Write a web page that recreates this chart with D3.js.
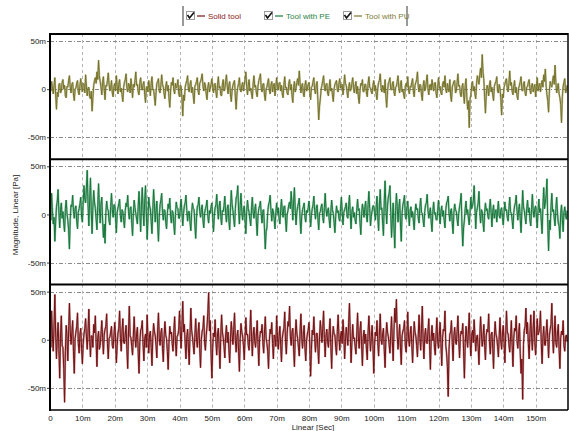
<!DOCTYPE html>
<html>
<head>
<meta charset="utf-8">
<script src="https://cdn.jsdelivr.net/npm/d3@7"></script>
<style>
  body { margin: 0; background: #fff; }
  svg { display: block; }
  text { font-family: "Liberation Sans", Arial, sans-serif; }
</style>
</head>
<body>
<svg id="chart" width="569" height="431"></svg>
<script>
// Sample spacing in milliseconds; magnitudes are in milli-pascal.
const sampleStepMs = 0.25;

const toolWithPU = [
  3, -2, 8, 1, -5, 4, 12, -6, -21, -3, -8, 5, 6, -4, -2, 7, 10, 0, 4, -7, -9, 3, 2, 9, 14, 2, -4, 5, 7, -5, -12, 0, 1, 6, 9, -3, -6, 4, 11, 2,
  -3, 6, 5, -4, 15, 3, -7, 1, 2, -8, -10, -2, -23, -9, 4, 9, 12, 6, 18, 10, 30, 14, 8, 2, -6, 7, 13, -1, -11, 4, 3, 9, 17, 5, -2, 1, 9, -4, -8, 3,
  6, -2, 14, 3, -5, 5, 10, -3, 1, -6, -13, 2, 7, 10, 16, 1, -3, 6, 4, -4, 11, 3, -9, 5, 2, 9, 18, 4, 5, -3, -6, 7, 12, 2, -1, 5, 8, -5, -14, 1,
  3, -3, 9, 2, -7, 6, 13, -1, 0, -8, -17, -4, 6, 8, 11, -2, -4, 4, 15, 5, 2, -5, -10, 3, 8, -2, 4, -9, -19, -2, 7, 4, 12, -1, -5, 6, 1, 3, 10, -4,
  -8, 4, 3, -9, -28, -6, -12, 2, 6, 9, 14, 0, -3, 5, 9, -4, 2, -7, -15, 3, 5, 8, 12, -2, -6, 6, 8, 11, 16, 3, -2, 7, 4, -5, -11, 2, 7, -3, 1, 5,
  11, 2, -4, 5, 6, -3, -9, 4, 13, 1, 3, -6, -7, 5, 10, -2, 0, 8, 15, 3, -5, 4, 8, -6, -13, -1, 4, 7, 9, -8, -21, -5, 2, 6, 12, 0, -3, 4, 7, -2,
  5, 10, 18, 3, -6, 4, 10, -2, 1, -5, -10, 6, 14, 2, 4, -4, -8, 3, 9, 12, 16, 1, -3, 5, 6, -6, -12, 0, 2, 7, 11, -1, -5, 4, 8, -3, 3, 6, -7, 2,
  12, 3, -1, 6, 7, -2, 4, -5, -9, 5, 13, 1, 2, -4, -6, 6, 10, -1, 5, -7, -14, 2, 8, -3, 1, 7, 11, 4, 19, 6, -4, 3, 6, -5, -8, 4, 9, -2, 0, 5,
  7, -3, -11, 2, 3, 8, 12, -1, -5, 4, 8, -12, -32, -18, -10, 0, 4, 9, 14, 2, -2, 5, 6, -4, -7, 3, 10, -2, 1, -6, -13, 0, 5, 7, 9, -1, -3, 6, 11, 1,
  2, 5, -6, 3, 15, 6, 4, -3, -9, 1, 7, -2, 0, 6, 12, 2, -4, 3, 8, -5, 3, -8, -15, -2, 6, 4, 10, -3, -2, 5, 5, -4, -8, 6, 13, 2, 1, -3, -5, 4,
  9, -2, 4, -5, -11, 1, 7, 9, 16, 2, -3, 4, 2, -4, 10, -8, -19, -3, 6, 8, 12, 0, -1, 5, 8, -3, -7, 2, 3, 8, 14, 1, -4, 5, 9, -3, 0, -6, -10, 3,
  6, 2, 13, -1, -5, 3, 2, 7, 11, -3, -8, 4, 7, 10, 18, 2, -3, 5, 4, -6, -12, 3, 9, -2, 1, 8, 15, 0, -6, 4, 5, -1, 10, 3, -2, 6, 7, -4, -9, 2,
  12, 1, 3, -4, -6, 5, 8, 2, 14, -1, -4, 6, 1, -3, 10, -7, -13, 2, 5, 8, 9, -4, -2, 7, 16, 3, 4, -5, -8, 2, 6, -6, -15, 4, 11, -8, -21, -12, -40, -10,
  -6, 4, 8, -2, 3, -5, -10, 6, 14, 9, 5, 15, 22, 12, 36, 18, 10, -8, -25, -6, 4, 1, -7, 5, 9, -3, 2, -6, -12, 3, 6, 8, 13, -2, -4, 5, 1, -10, -27, -5,
  -9, 2, 5, 9, 11, 0, -3, 6, 19, 4, 7, -2, -6, 3, 9, -4, 2, -7, -11, 1, 4, 8, 13, -1, -2, 5, 8, -4, -7, 2, 3, 7, 10, -1, -5, 4, 6, -3, 1, 5,
  -8, 3, 12, -2, 4, 6, -3, 5, 9, 2, 15, 8, 21, 3, -6, -12, -24, -2, 8, 4, 2, 9, 14, 5, 25, 7, -4, 2, 6, -5, -9, -16, -35, -8, 3, 7, 11, -4, -2, 4
];

const toolWithPE = [
  5, -6, 22, 4, -10, -3, -28, -8, 8, 14, 26, 2, -14, 5, 12, -4, 3, -9, -18, 6, 15, 1, -6, -16, -36, -5, 10, 8, 20, 3, -4, 6, 9, -7, -15, 2, 6, 11, 18, -3,
  -8, 12, 30, 16, 12, 28, 46, 10, -12, 15, 38, 4, -20, 8, 25, 13, 6, -5, -16, 9, 32, 7, -9, 11, 18, -6, -24, -10, -30, 2, 14, 6, 4, -7, -11, 8, 22, 5, -3, 10,
  10, -4, -19, 2, 7, 11, 16, -1, -8, 5, 3, -6, -14, 4, 12, 8, 20, 3, -5, 6, 8, -9, -22, 1, 15, 7, 1, -5, -10, 9, 24, 2, -18, 10, 28, 5, -12, 14, 30, 3,
  -26, -6, 18, 9, 6, -7, -20, 4, 26, 11, -8, 3, 14, -10, -28, -3, 10, 15, 22, 2, -6, 5, 4, -8, -15, 1, 11, 6, 17, -2, -9, 4, 2, -11, -21, 0, 13, 7, 6, -4,
  -4, 7, 16, 2, -12, 1, 9, 12, 20, 4, -7, 3, 3, -8, -17, 2, 12, 6, 5, -11, -25, -4, 8, 10, 18, 3, -3, 5, 10, -6, -14, 1, 6, 9, 15, -2, -9, 4, 1, 8,
  12, -3, -18, -2, 7, 10, 21, 5, -5, 8, 14, -2, -11, 4, 3, 9, 19, 1, -8, 6, 10, -6, -16, 7, 25, 11, 4, -5, -13, 6, 17, 20, 30, 4, -10, 9, 22, 3, -6, 5,
  9, -6, -20, 3, 15, 6, 2, -5, -12, 7, 18, 2, -4, 5, 11, -8, -22, -1, 6, 9, 14, 0, -9, 4, 5, -15, -36, -18, -14, 2, 10, 13, 20, 4, -7, 6, 3, -5, -15, 2,
  12, 1, 7, -4, -10, 5, 16, 3, -3, 8, 9, -6, -18, 0, 4, 10, 13, 6, 24, 9, -6, 14, 28, 4, -11, 2, 8, 12, 17, -5, -20, -2, 5, 8, 12, -3, -8, 4, 2, 7,
  14, 2, -13, -1, 6, 10, 19, 4, -5, 6, 10, -4, -16, 1, 3, 8, 11, -3, -9, 7, 22, 6, -2, 4, 7, -6, -14, 3, 15, 5, 1, -8, -19, -2, 9, 2, 4, -4, -7, 6,
  18, 3, -11, 2, 5, 8, 12, -2, -4, 9, 20, 1, -15, 3, 8, -3, 2, -6, -10, 5, 16, 4, 6, -8, -21, 0, 11, 5, -3, 7, 14, -2, -8, 10, 24, 6, -12, -2, 4, 9,
  9, 2, -6, 8, 19, -3, -17, 10, 26, 5, 7, -9, -22, 14, 35, 6, -10, 9, 18, 22, 30, 2, -24, -5, 12, -14, -35, 4, 22, 8, -8, 6, 16, -10, -28, 1, 10, 14, 20, -2,
  -5, 6, 14, 0, -12, 4, 8, -3, 3, -7, -16, 2, 11, 5, 6, -4, -9, 8, 17, 2, 1, -6, -13, 3, 10, 12, 21, 4, -4, 2, 7, -8, -18, 3, 13, 1, 2, -5, -6, 4,
  15, 2, -10, 3, 9, -2, 4, -6, -14, 5, 12, 14, 19, 1, -7, 4, 6, -9, -20, 2, 11, 5, 3, -5, -12, 1, 8, 13, 22, -12, -33, -14, -6, 6, 14, 1, 5, -4, -11, 3,
  18, 6, 9, 14, 30, 8, -15, 2, 7, 12, 24, 3, -9, 5, 3, -8, -18, 1, 12, 4, 6, -2, -5, 7, 16, 2, -13, 3, 10, -4, 2, 5, -8, 4, 14, -1, -4, 5, 7, -3,
  -11, 2, 13, 4, 5, -3, -7, 6, 18, 3, 1, -6, -15, 2, 9, 12, 20, 4, -6, 5, 11, -5, -19, 3, 25, 8, 4, -3, -10, 6, 15, 2, 7, -6, -12, 5, 21, 4, -3, 6,
  9, -3, -14, 4, 16, 2, 6, -7, -20, 8, 28, 6, 12, 20, 37, -10, -38, -6, -16, 8, 22, 3, 5, -4, -12, 6, 18, 2, -9, -12, -25, 1, 10, -5, -18, 2, 8, -1, -5, 4
];

const solidTool = [
  10, -8, 30, 4, -12, 15, 47, 6, -20, 2, 18, -10, -40, 5, 25, -6, -8, -30, -65, -12, 15, 3, -22, 8, 38, 10, -5, 7, 20, -12, -35, 1, 8, 14, 28, -4, -14, 6, 12, -9,
  -25, -5, 6, 12, 22, 3, -10, 9, 32, 1, -18, 4, 4, -8, 16, 7, 25, -3, -28, 2, 9, -10, -6, 6, 20, 2, -15, 5, 11, 14, 27, -4, -20, 1, 3, 8, 14, -6, -9, 4,
  18, 2, -24, -6, 7, 12, 30, 1, -12, 9, 22, -3, -4, 6, 15, -10, -30, 8, 35, 4, 2, -7, -16, 5, 24, 3, -8, 6, 13, -14, -35, -2, 10, 12, 20, -5, -22, 1, 6, -8,
  26, 3, -14, 5, 9, -8, -27, 2, 17, 9, 4, -6, -19, 10, 28, 2, -6, 7, 12, -9, -23, 4, 19, 5, 1, -12, -31, -3, 14, 6, 8, -4, -12, 9, 24, -2, -17, 3, 5, 10,
  30, 6, -9, 14, 40, 8, 16, -4, -20, 3, 11, -8, -26, 6, 33, 10, 3, -6, -15, 5, 22, 2, -8, 7, 18, -10, -29, 0, 9, 12, 25, -3, -11, 4, 14, 28, 49, 9, 20, -14,
  -40, -8, 7, 3, 21, -2, -16, 6, 12, -9, -30, 4, 26, 8, 2, -7, -19, 5, 15, -3, 8, -10, -24, 2, 19, 6, -5, 11, 28, -1, -13, 3, 10, -12, -33, 1, 17, 8, 4, -6,
  -21, 2, 23, 5, 6, -6, -11, 9, 31, 3, -17, 4, 13, -2, -8, 6, 20, -5, -27, 1, 9, 7, 16, -3, -14, 8, 24, 2, -4, -12, -30, -1, 11, 6, 18, -4, -20, 5, 3, -7,
  25, 4, -10, 3, 14, -6, -23, 1, 8, 12, 29, -2, -15, 6, 19, 14, 35, 3, -6, 8, 12, -10, -28, 4, 21, 7, 1, -8, -17, 9, 27, 2, -9, 5, 15, -8, -22, -1, 6, 10,
  18, -6, -38, -10, 10, 5, 24, 2, -13, 6, 7, -9, -25, 3, 20, 8, -3, 12, 30, 1, -18, 4, 11, -2, -8, 9, 22, -7, -30, 2, 14, 6, 5, -8, -16, 9, 26, 3, -11, 4,
  9, -4, 21, 6, -20, -2, 13, 4, -6, 18, 38, 5, -24, -3, 16, 1, 2, -7, -15, 6, 28, 3, -9, 10, 19, -6, -27, 2, 10, -4, 6, -10, -21, 8, 25, 4, -12, 3, 15, -5,
  -35, -6, 8, 4, 20, -3, -17, 7, 27, 1, -5, 6, 12, -11, -29, 2, 18, 8, 3, -5, -14, 6, 24, -2, -22, 10, 33, 18, 42, 5, -10, 3, 16, -8, -26, 4, 9, 12, 20, -6,
  -13, 3, 29, 2, -7, 6, 14, -5, -24, 1, 19, 8, 4, -6, -18, 5, 26, 2, -11, 12, 35, -1, -20, 4, 12, -3, -4, 9, 22, -6, -31, 2, 15, -1, 7, -8, -16, 6, 23, -2,
  -9, 5, 18, -4, -27, 2, 11, 9, 30, -6, -14, -28, -59, -10, 6, 8, 20, -3, -22, 4, 13, -2, -5, 9, 25, 1, -19, 3, 9, 6, 17, -12, -40, -4, 14, 3, -8, 10, 28, -2,
  -17, 4, 10, -3, 21, 5, -12, 2, 5, -8, -26, 3, 24, 6, -7, 1, 16, -6, -21, 4, 11, 8, 27, -2, -15, 5, 8, -9, -30, 3, 19, 6, 2, -7, -18, 4, 23, -1, -10, 6,
  15, -2, -24, 4, 30, 8, 6, -5, -13, 3, 20, -6, -28, 2, 12, 9, 25, -1, -9, 6, 17, -14, -35, -20, -62, -5, 10, 14, 33, 6, 18, -4, -20, 7, 26, 2, -11, 12, 30, -3,
  -16, 3, 22, 5, 8, 12, 30, -4, -25, 2, 14, -5, -6, 8, 21, 1, -19, 4, 11, 16, 38, 2, -14, 6, 25, -3, -8, 7, 16, -10, -30, 2, 9, 5, 20, -6, -12, 3, 5, -2
];

// Panels from top to bottom
const panelSeries = [toolWithPU, toolWithPE, solidTool];
const panelColors = ["#767329", "#15773a", "#761012"];

// Legend order (left to right)
const legendNames = ["Solid tool", "Tool with PE", "Tool with PU"];
const legendColors = ["#7a1113", "#177a3b", "#7a772b"];
const legendTextColors = ["#8a2222", "#1f8446", "#807c32"];

const xTickValues = [0, 10, 20, 30, 40, 50, 60, 70, 80, 90, 100, 110, 120, 130, 140, 150];
const xTickLabels = ["0", "10m", "20m", "30m", "40m", "50m", "60m", "70m", "80m", "90m",
                     "100m", "110m", "120m", "130m", "140m", "150m"];
const yTickValues = [50, 0, -50];
const yTickLabels = ["50m", "0", "-50m"];

const svg = d3.select("#chart");
const plotLeft = 50, plotRight = 568;
const plotTop = 34, panelHeight = 125.3;
const yDomain = [-72.9, 57.3];

const x = d3.scaleLinear().domain([0, 160]).range([plotLeft, plotRight]);

panelSeries.forEach((values, p) => {
  const top = plotTop + p * panelHeight;
  const bottom = top + panelHeight;
  const y = d3.scaleLinear().domain(yDomain).range([bottom, top]);
  const g = svg.append("g");

  const clipId = "clip" + p;
  svg.append("clipPath").attr("id", clipId)
    .append("rect").attr("x", plotLeft).attr("y", top)
    .attr("width", plotRight - plotLeft).attr("height", panelHeight);

  // vertical grid
  g.selectAll(".vgrid").data(xTickValues.filter(d => d > 0)).join("line")
    .attr("x1", d => Math.round(x(d)) + 0.5).attr("x2", d => Math.round(x(d)) + 0.5)
    .attr("y1", top).attr("y2", bottom)
    .attr("stroke", "#b4b4b4").attr("stroke-width", 1)
    .attr("stroke-dasharray", "3,3");

  // horizontal grid (dash-dot)
  g.selectAll(".hgrid").data(yTickValues).join("line")
    .attr("x1", plotLeft).attr("x2", plotRight)
    .attr("y1", d => Math.round(y(d)) + 0.5).attr("y2", d => Math.round(y(d)) + 0.5)
    .attr("stroke", "#8a8a8a").attr("stroke-width", 1)
    .attr("stroke-dasharray", "4,2,1,2");

  // signal trace: soft halo underneath, solid core on top
  const line = d3.line()
    .x((d, i) => x(i * sampleStepMs))
    .y(d => y(d));
  g.append("path")
    .datum(values)
    .attr("clip-path", `url(#${clipId})`)
    .attr("fill", "none")
    .attr("stroke", panelColors[p])
    .attr("stroke-opacity", 0.45)
    .attr("stroke-width", 2)
    .attr("stroke-linejoin", "bevel")
    .attr("d", line);
  g.append("path")
    .datum(values)
    .attr("clip-path", `url(#${clipId})`)
    .attr("fill", "none")
    .attr("stroke", panelColors[p])
    .attr("stroke-width", 1)
    .attr("stroke-linejoin", "bevel")
    .attr("d", line);

  // y axis labels
  const axis = d3.axisLeft(y)
    .tickValues(yTickValues)
    .tickFormat((d, i) => yTickLabels[i])
    .tickSize(3).tickPadding(1);
  const ag = svg.append("g").attr("transform", `translate(${plotLeft},0)`).call(axis);
  ag.select(".domain").remove();
  ag.selectAll("line").attr("stroke", "#444");
  ag.selectAll("text").attr("font-size", 8).attr("fill", "#222");

  // panel separator / top border
  svg.append("line")
    .attr("x1", plotLeft).attr("x2", plotRight)
    .attr("y1", top).attr("y2", top)
    .attr("stroke", "#000").attr("stroke-width", 2);
});

const plotBottom = plotTop + 3 * panelHeight;

// outer frame
svg.append("line").attr("x1", plotLeft).attr("x2", plotRight)
  .attr("y1", plotBottom).attr("y2", plotBottom)
  .attr("stroke", "#000").attr("stroke-width", 1.5);
svg.append("line").attr("x1", plotLeft).attr("x2", plotLeft)
  .attr("y1", plotTop - 1).attr("y2", plotBottom + 1)
  .attr("stroke", "#000").attr("stroke-width", 2);
svg.append("line").attr("x1", plotRight).attr("x2", plotRight)
  .attr("y1", plotTop - 1).attr("y2", plotBottom)
  .attr("stroke", "#000").attr("stroke-width", 1.5);

// x axis
const xAxis = d3.axisBottom(x)
  .tickValues(xTickValues)
  .tickFormat((d, i) => xTickLabels[i])
  .tickSize(0).tickPadding(5);
const xg = svg.append("g").attr("transform", `translate(0,${plotBottom})`).call(xAxis);
xg.select(".domain").remove();
xg.selectAll("text").attr("font-size", 8).attr("fill", "#222");

// axis titles
svg.append("text")
  .attr("x", 313).attr("y", 430)
  .attr("text-anchor", "middle")
  .attr("font-size", 8).attr("fill", "#222")
  .text("Linear [Sec]");
svg.append("text")
  .attr("transform", "translate(18,215) rotate(-90)")
  .attr("text-anchor", "middle")
  .attr("font-size", 8).attr("fill", "#222")
  .text("Magnitude, Linear [Pa]");

// legend
const legend = svg.append("g");
legend.append("rect").attr("x", 182).attr("y", 6).attr("width", 2).attr("height", 20).attr("fill", "#9a9a9a");
legend.append("rect").attr("x", 406).attr("y", 6).attr("width", 2).attr("height", 20).attr("fill", "#9a9a9a");
const legendX = [186, 264, 343];
legendNames.forEach((name, i) => {
  const lx = legendX[i];
  const item = legend.append("g").attr("transform", `translate(${lx},11)`);
  item.append("rect").attr("x", 0.5).attr("y", 0.5).attr("width", 8).attr("height", 8)
    .attr("fill", "#fff").attr("stroke", "#9a9a9a");
  item.append("path").attr("d", "M1.5,4 L3.5,7 L8,1.5")
    .attr("fill", "none").attr("stroke", "#111").attr("stroke-width", 1.6);
  item.append("line").attr("x1", 11).attr("x2", 19).attr("y1", 5).attr("y2", 5)
    .attr("stroke", legendColors[i]).attr("stroke-width", 1.2);
  item.append("text").attr("x", 22).attr("y", 8)
    .attr("font-size", 8).attr("fill", legendTextColors[i])
    .text(name);
});
</script>
</body>
</html>
